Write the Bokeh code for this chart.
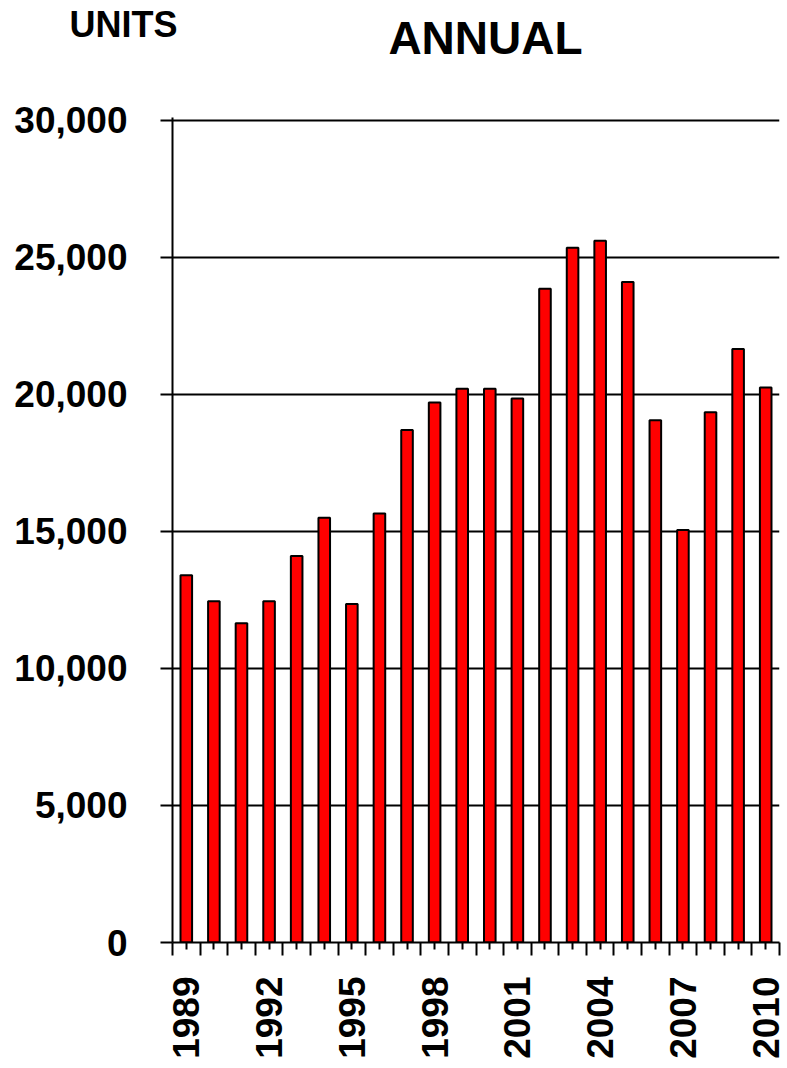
import math
from bokeh.plotting import figure
from bokeh.layouts import column
from bokeh.models import Range1d, FixedTicker, NumeralTickFormatter, Label, ColumnDataSource
from bokeh.embed import file_html
from bokeh.resources import INLINE

years = [1989, 1990, 1991, 1992, 1993, 1994, 1995, 1996, 1997, 1998, 1999,
         2000, 2001, 2002, 2003, 2004, 2005, 2006, 2007, 2008, 2009, 2010]
units = [13400, 12450, 11650, 12450, 14100, 15500, 12350, 15650, 18700, 19700, 20200,
         20200, 19850, 23850, 25350, 25600, 24100, 19050, 15050, 19350, 21650, 20250]
y_ticks = [0, 5000, 10000, 15000, 20000, 25000, 30000]
labelled_years = [1989, 1992, 1995, 1998, 2001, 2004, 2007, 2010]
unit_label = "UNITS"
title_text = "ANNUAL"

idx = list(range(len(years)))
src = ColumnDataSource(dict(x=idx, top=units))

FONT = "Liberation Sans"

# header with the two titles
HEADER_H = 90
header = figure(width=787, height=HEADER_H, output_backend="svg", toolbar_location=None,
                x_axis_location=None, y_axis_location=None,
                x_range=Range1d(0, 1), y_range=Range1d(0, 1),
                min_border=0, min_border_left=0, min_border_right=0,
                min_border_top=0, min_border_bottom=0)
header.outline_line_color = None
header.grid.grid_line_color = None
header.add_layout(Label(x=69, y=66, x_units="screen", y_units="screen", text=unit_label,
                        text_font=FONT, text_font_style="bold", text_font_size="36px",
                        text_align="left", text_baseline="alphabetic", text_color="black"))
header.add_layout(Label(x=485, y=53, x_units="screen", y_units="screen", text=title_text,
                        text_font=FONT, text_font_style="bold", text_font_size="46px",
                        text_align="center", text_baseline="alphabetic", text_color="black"))

Y_END = 30100
FRAME_H = 825
TOP = 942 - FRAME_H - HEADER_H
BOTTOM = 122
p = figure(width=787, height=TOP + FRAME_H + BOTTOM, output_backend="svg", toolbar_location=None,
           x_range=Range1d(-0.5, len(years) - 0.5), y_range=Range1d(0, Y_END),
           min_border_left=172, min_border_right=8, min_border_top=TOP, min_border_bottom=BOTTOM)
p.outline_line_color = None
p.background_fill_color = "white"

for fig in (header, p):
    if hasattr(fig, "frame_align"):
        fig.frame_align = False

p.vbar(x="x", top="top", bottom=0, width=0.42, source=src,
       fill_color="#FF0000", line_color="black", line_width=2)

# y axis
p.yaxis.ticker = FixedTicker(ticks=y_ticks)
p.yaxis.formatter = NumeralTickFormatter(format="0,0")
p.yaxis.major_tick_out = 12
p.yaxis.major_tick_in = 0
p.yaxis.minor_tick_line_color = None
p.yaxis.major_tick_line_width = 2
p.yaxis.major_tick_line_color = "black"
p.yaxis.axis_line_width = 2
p.yaxis.axis_line_color = "black"
p.yaxis.major_label_standoff = 33
p.yaxis.major_label_text_font = FONT
p.yaxis.major_label_text_font_style = "bold"
p.yaxis.major_label_text_font_size = "37px"
p.yaxis.major_label_text_color = "black"

# x axis
p.xaxis.ticker = FixedTicker(ticks=idx, minor_ticks=[i - 0.5 for i in range(len(years) + 1)])
p.xaxis.major_label_overrides = {i: (str(y) if y in labelled_years else "") for i, y in zip(idx, years)}
p.xaxis.major_tick_out = 7
p.xaxis.major_tick_in = 0
p.xaxis.minor_tick_out = 13
p.xaxis.minor_tick_in = 0
p.xaxis.major_tick_line_width = 2
p.xaxis.minor_tick_line_width = 2
p.xaxis.major_tick_line_color = "black"
p.xaxis.minor_tick_line_color = "black"
p.xaxis.axis_line_width = 2
p.xaxis.axis_line_color = "black"
p.xaxis.major_label_orientation = math.pi / 2
p.xaxis.major_label_standoff = 21
p.xaxis.major_label_text_font = FONT
p.xaxis.major_label_text_font_style = "bold"
p.xaxis.major_label_text_font_size = "37px"
p.xaxis.major_label_text_color = "black"

p.xgrid.grid_line_color = None
p.ygrid.ticker = FixedTicker(ticks=y_ticks)
p.ygrid.grid_line_color = "black"
p.ygrid.grid_line_width = 2
p.ygrid.grid_line_alpha = 1.0

layout = column(header, p, spacing=0)
open("out.html", "w").write(file_html(layout, INLINE))
